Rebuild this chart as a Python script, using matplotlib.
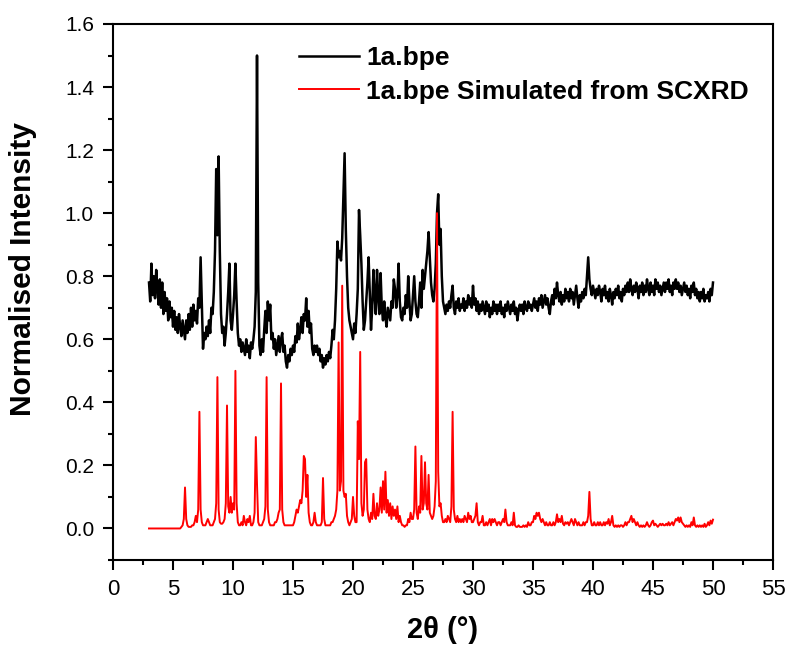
import numpy as np
import matplotlib
matplotlib.use("Agg")
from matplotlib import pyplot as plt

# 2theta grid of the scans (0.1 deg steps, 3 -> 50)
two_theta = np.round(np.arange(30, 501) / 10.0, 1)

# measured PXRD, one row per degree (x.0 ... x.9)
exp_rows = [
    [0.78, 0.72, 0.84, 0.74, 0.80, 0.73, 0.82, 0.76, 0.71, 0.79],  # 3
    [0.70, 0.78, 0.68, 0.75, 0.69, 0.73, 0.66, 0.72, 0.67, 0.70],  # 4
    [0.64, 0.69, 0.63, 0.67, 0.62, 0.68, 0.64, 0.61, 0.66, 0.63],  # 5
    [0.60, 0.66, 0.62, 0.68, 0.63, 0.70, 0.64, 0.71, 0.66, 0.69],  # 6
    [0.65, 0.73, 0.70, 0.86, 0.72, 0.57, 0.62, 0.60, 0.64, 0.61],  # 7
    [0.66, 0.62, 0.70, 0.68, 0.75, 0.88, 1.14, 0.93, 1.18, 0.88],  # 8
    [0.68, 0.62, 0.64, 0.58, 0.62, 0.68, 0.75, 0.84, 0.66, 0.63],  # 9
    [0.68, 0.74, 0.84, 0.72, 0.62, 0.58, 0.60, 0.56, 0.59, 0.57],  # 10
    [0.55, 0.60, 0.56, 0.58, 0.54, 0.59, 0.57, 0.60, 0.64, 0.75],  # 11
    [1.50, 0.78, 0.58, 0.55, 0.60, 0.56, 0.63, 0.69, 0.62, 0.72],  # 12
    [0.66, 0.71, 0.60, 0.62, 0.57, 0.60, 0.55, 0.58, 0.61, 0.56],  # 13
    [0.60, 0.62, 0.56, 0.58, 0.53, 0.51, 0.55, 0.53, 0.57, 0.55],  # 14
    [0.58, 0.56, 0.61, 0.59, 0.65, 0.60, 0.63, 0.67, 0.62, 0.68],  # 15
    [0.66, 0.73, 0.64, 0.69, 0.62, 0.65, 0.57, 0.55, 0.58, 0.56],  # 16
    [0.58, 0.55, 0.57, 0.53, 0.55, 0.51, 0.54, 0.52, 0.55, 0.53],  # 17
    [0.56, 0.54, 0.58, 0.63, 0.60, 0.66, 0.76, 0.91, 0.86, 0.88],  # 18
    [0.85, 0.92, 1.05, 1.19, 0.95, 0.80, 0.70, 0.66, 0.64, 0.62],  # 19
    [0.60, 0.65, 0.62, 0.68, 0.76, 1.01, 0.93, 0.84, 0.72, 0.63],  # 20
    [0.66, 0.72, 0.78, 0.86, 0.75, 0.63, 0.70, 0.82, 0.74, 0.68],  # 21
    [0.82, 0.74, 0.68, 0.81, 0.70, 0.66, 0.72, 0.67, 0.64, 0.70],  # 22
    [0.68, 0.66, 0.72, 0.70, 0.79, 0.76, 0.70, 0.74, 0.84, 0.72],  # 23
    [0.67, 0.66, 0.70, 0.68, 0.74, 0.70, 0.80, 0.72, 0.66, 0.68],  # 24
    [0.74, 0.80, 0.72, 0.68, 0.67, 0.72, 0.78, 0.70, 0.82, 0.76],  # 25
    [0.80, 0.84, 0.88, 0.94, 0.86, 0.78, 0.74, 0.72, 0.76, 0.84],  # 26
    [1.00, 1.06, 0.90, 0.95, 0.80, 0.72, 0.70, 0.68, 0.71, 0.69],  # 27
    [0.72, 0.70, 0.74, 0.77, 0.70, 0.68, 0.72, 0.70, 0.73, 0.69],  # 28
    [0.71, 0.70, 0.73, 0.69, 0.72, 0.70, 0.74, 0.71, 0.73, 0.70],  # 29
    [0.77, 0.71, 0.73, 0.69, 0.72, 0.68, 0.71, 0.69, 0.72, 0.70],  # 30
    [0.68, 0.72, 0.69, 0.71, 0.67, 0.70, 0.68, 0.72, 0.69, 0.71],  # 31
    [0.68, 0.71, 0.69, 0.72, 0.68, 0.70, 0.67, 0.71, 0.69, 0.72],  # 32
    [0.70, 0.68, 0.71, 0.69, 0.72, 0.68, 0.70, 0.66, 0.69, 0.71],  # 33
    [0.69, 0.71, 0.68, 0.72, 0.70, 0.69, 0.72, 0.70, 0.71, 0.69],  # 34
    [0.71, 0.73, 0.70, 0.72, 0.69, 0.73, 0.71, 0.74, 0.70, 0.72],  # 35
    [0.74, 0.71, 0.73, 0.70, 0.68, 0.72, 0.74, 0.71, 0.76, 0.73],  # 36
    [0.78, 0.74, 0.72, 0.75, 0.71, 0.74, 0.72, 0.76, 0.73, 0.75],  # 37
    [0.72, 0.76, 0.73, 0.75, 0.71, 0.74, 0.77, 0.73, 0.70, 0.74],  # 38
    [0.72, 0.75, 0.73, 0.76, 0.74, 0.80, 0.86, 0.79, 0.76, 0.74],  # 39
    [0.77, 0.75, 0.73, 0.76, 0.74, 0.77, 0.75, 0.72, 0.76, 0.74],  # 40
    [0.77, 0.73, 0.75, 0.72, 0.76, 0.74, 0.71, 0.75, 0.73, 0.76],  # 41
    [0.74, 0.77, 0.73, 0.75, 0.72, 0.76, 0.74, 0.77, 0.75, 0.78],  # 42
    [0.75, 0.79, 0.76, 0.74, 0.77, 0.75, 0.78, 0.76, 0.73, 0.77],  # 43
    [0.75, 0.78, 0.74, 0.77, 0.75, 0.79, 0.76, 0.74, 0.78, 0.75],  # 44
    [0.77, 0.74, 0.79, 0.76, 0.78, 0.75, 0.77, 0.74, 0.76, 0.78],  # 45
    [0.75, 0.78, 0.76, 0.79, 0.75, 0.77, 0.74, 0.78, 0.76, 0.79],  # 46
    [0.76, 0.78, 0.75, 0.77, 0.74, 0.76, 0.78, 0.75, 0.77, 0.74],  # 47
    [0.76, 0.73, 0.77, 0.75, 0.78, 0.74, 0.76, 0.73, 0.75, 0.72],  # 48
    [0.75, 0.73, 0.76, 0.72, 0.74, 0.73, 0.75, 0.72, 0.76, 0.74],  # 49
    [0.78],                                                        # 50
]

# simulated from single crystal data
sim_rows = [
    [0, 0, 0, 0, 0, 0, 0, 0, 0, 0],  # 3
    [0, 0, 0, 0, 0, 0, 0, 0, 0, 0],  # 4
    [0, 0, 0, 0, 0, 0, 0, 0.005, 0.01, 0.03],  # 5
    [0.13, 0.03, 0.01, 0.005, 0.005, 0.005, 0.01, 0.01, 0.02, 0.04],  # 6
    [0.02, 0.06, 0.37, 0.06, 0.02, 0.01, 0.01, 0.01, 0.02, 0.03],  # 7
    [0.02, 0.01, 0.01, 0.01, 0.02, 0.03, 0.08, 0.48, 0.06, 0.02],  # 8
    [0.015, 0.015, 0.02, 0.03, 0.08, 0.39, 0.07, 0.05, 0.10, 0.05],  # 9
    [0.08, 0.06, 0.50, 0.08, 0.02, 0.01, 0.01, 0.02, 0.01, 0.04],  # 10
    [0.02, 0.01, 0.03, 0.02, 0.04, 0.01, 0.01, 0.02, 0.05, 0.29],  # 11
    [0.14, 0.02, 0.01, 0.01, 0.01, 0.02, 0.03, 0.07, 0.48, 0.06],  # 12
    [0.02, 0.01, 0.01, 0.01, 0.01, 0.02, 0.02, 0.03, 0.05, 0.06],  # 13
    [0.46, 0.06, 0.02, 0.01, 0.01, 0.01, 0.01, 0.01, 0.01, 0.01],  # 14
    [0.01, 0.02, 0.04, 0.06, 0.05, 0.07, 0.09, 0.08, 0.12, 0.23],  # 15
    [0.22, 0.10, 0.17, 0.05, 0.02, 0.01, 0.01, 0.02, 0.05, 0.02],  # 16
    [0.01, 0.01, 0.01, 0.01, 0.02, 0.16, 0.03, 0.01, 0.01, 0.01],  # 17
    [0.01, 0.01, 0.02, 0.02, 0.03, 0.04, 0.06, 0.12, 0.59, 0.12],  # 18
    [0.15, 0.77, 0.12, 0.10, 0.11, 0.04, 0.02, 0.01, 0.02, 0.03],  # 19
    [0.10, 0.04, 0.02, 0.02, 0.34, 0.22, 0.56, 0.08, 0.04, 0.06],  # 20
    [0.21, 0.22, 0.06, 0.03, 0.02, 0.05, 0.03, 0.11, 0.04, 0.03],  # 21
    [0.08, 0.04, 0.06, 0.13, 0.05, 0.15, 0.06, 0.18, 0.05, 0.09],  # 22
    [0.04, 0.08, 0.03, 0.07, 0.04, 0.06, 0.03, 0.07, 0.02, 0.04],  # 23
    [0.02, 0.01, 0.01, 0.005, 0.01, 0.01, 0.03, 0.02, 0.05, 0.03],  # 24
    [0.03, 0.06, 0.26, 0.05, 0.03, 0.07, 0.05, 0.23, 0.06, 0.08],  # 25
    [0.21, 0.08, 0.06, 0.17, 0.05, 0.04, 0.03, 0.04, 0.07, 0.15],  # 26
    [1.00, 0.18, 0.07, 0.08, 0.04, 0.02, 0.02, 0.03, 0.02, 0.04],  # 27
    [0.03, 0.02, 0.07, 0.37, 0.06, 0.03, 0.02, 0.04, 0.02, 0.03],  # 28
    [0.02, 0.03, 0.02, 0.04, 0.03, 0.02, 0.05, 0.03, 0.04, 0.02],  # 29
    [0.02, 0.03, 0.04, 0.08, 0.02, 0.01, 0.02, 0.02, 0.04, 0.01],  # 30
    [0.01, 0.02, 0.01, 0.02, 0.03, 0.01, 0.03, 0.02, 0.03, 0.02],  # 31
    [0.01, 0.02, 0.02, 0.01, 0.02, 0.03, 0.02, 0.06, 0.02, 0.01],  # 32
    [0.01, 0.01, 0.02, 0.01, 0.05, 0.01, 0.005, 0.005, 0.01, 0.005],  # 33
    [0.005, 0.005, 0.01, 0.005, 0.01, 0.005, 0.02, 0.01, 0.01, 0.02],  # 34
    [0.02, 0.04, 0.03, 0.05, 0.04, 0.05, 0.03, 0.02, 0.03, 0.02],  # 35
    [0.01, 0.02, 0.01, 0.01, 0.02, 0.01, 0.01, 0.02, 0.01, 0.02],  # 36
    [0.045, 0.02, 0.03, 0.02, 0.04, 0.015, 0.01, 0.02, 0.015, 0.02],  # 37
    [0.01, 0.02, 0.03, 0.02, 0.01, 0.03, 0.02, 0.01, 0.02, 0.01],  # 38
    [0.01, 0.01, 0.02, 0.01, 0.02, 0.02, 0.04, 0.116, 0.03, 0.01],  # 39
    [0.01, 0.02, 0.01, 0.01, 0.02, 0.01, 0.02, 0.01, 0.01, 0.02],  # 40
    [0.01, 0.02, 0.015, 0.03, 0.01, 0.02, 0.04, 0.01, 0.005, 0.01],  # 41
    [0.005, 0.01, 0.005, 0.01, 0.01, 0.005, 0.01, 0.02, 0.01, 0.02],  # 42
    [0.02, 0.03, 0.04, 0.02, 0.03, 0.02, 0.01, 0.02, 0.01, 0.005],  # 43
    [0.01, 0.005, 0.01, 0.005, 0.01, 0.02, 0.01, 0.005, 0.01, 0.02],  # 44
    [0.025, 0.01, 0.015, 0.01, 0.005, 0.01, 0.015, 0.01, 0.015, 0.01],  # 45
    [0.01, 0.015, 0.01, 0.02, 0.01, 0.015, 0.02, 0.01, 0.02, 0.03],  # 46
    [0.025, 0.035, 0.02, 0.035, 0.02, 0.015, 0.01, 0.005, 0.01, 0.005],  # 47
    [0.01, 0.005, 0.02, 0.01, 0.035, 0.01, 0.005, 0.01, 0.005, 0.01],  # 48
    [0.005, 0.01, 0.005, 0.015, 0.005, 0.01, 0.02, 0.01, 0.025, 0.015],  # 49
    [0.028],  # 50
]

exp_int = np.concatenate([np.array(r, dtype=float) for r in exp_rows])
sim_int = np.concatenate([np.array(r, dtype=float) for r in sim_rows])

x_ticks = np.arange(0, 56, 5)
y_ticks = np.round(np.arange(0, 1.61, 0.2), 1)

fig = plt.figure(figsize=(7.87, 6.48), dpi=100)
ax = fig.add_axes([0.1436, 0.1358, 0.8386, 0.8272])

ax.plot(two_theta, exp_int, color="black", linewidth=1.8, label="1a.bpe")
ax.plot(two_theta, sim_int, color="red", linewidth=1.4, label="1a.bpe Simulated from SCXRD")

ax.set_xlim(0, 55)
ax.set_ylim(-0.1, 1.6)
ax.set_xticks(x_ticks)
ax.set_xticks(np.arange(2.5, 55, 5), minor=True)
ax.set_yticks(y_ticks)
ax.set_yticks(np.round(np.arange(-0.1, 1.6, 0.2), 1), minor=True)
ax.set_yticklabels([f"{v:.1f}" for v in y_ticks])

for s in ax.spines.values():
    s.set_linewidth(1.5)
ax.tick_params(which="major", direction="out", length=7.2, width=1.5, pad=6.5)
ax.tick_params(which="minor", direction="out", length=3.6, width=1.5)
ax.tick_params(axis="y", labelsize=15, labelfontfamily=["Liberation Sans", "DejaVu Sans"])
ax.tick_params(axis="x", labelsize=16, labelfontfamily=["Liberation Sans Narrow", "Liberation Sans", "DejaVu Sans"])

ax.set_xlabel("2θ (°)", fontsize=21, fontweight="bold",
              family=["Liberation Sans Narrow", "Liberation Sans", "DejaVu Sans"])
ax.set_ylabel("Normalised Intensity", fontsize=21.5, fontweight="bold",
              family=["Liberation Sans", "DejaVu Sans"])
ax.xaxis.set_label_coords(0.5, -0.105)
ax.yaxis.set_label_coords(-0.115, 0.543)

leg = ax.legend(loc="upper left", bbox_to_anchor=(0.282, 0.958), frameon=False,
                prop={"family": ["Liberation Sans", "DejaVu Sans"], "weight": "bold", "size": 19},
                handlelength=2.25, handletextpad=0.3, labelspacing=0.35,
                borderpad=0, borderaxespad=0)

fig.savefig("out.png", dpi=100)
